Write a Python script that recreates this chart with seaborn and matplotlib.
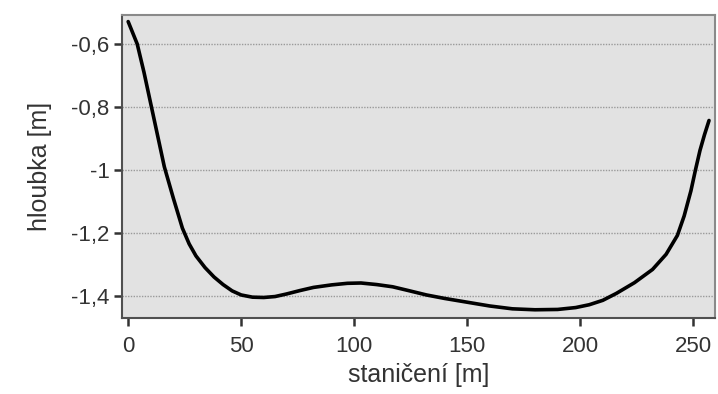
import matplotlib
matplotlib.use("Agg")
import matplotlib.pyplot as plt
import matplotlib.ticker as mticker
import pandas as pd
import seaborn as sns

# profile
staniceni = [0, 4, 7, 10, 13, 16, 20, 24, 27, 30, 34, 38, 42, 46, 50, 55,
             60, 65, 70, 76, 82, 90, 97, 103, 110, 117, 124, 132, 140, 150,
             160, 170, 180, 190, 198, 204, 210, 216, 224, 232, 238, 243,
             246, 249, 251, 253, 255, 257]
hloubka = [-0.529, -0.60, -0.69, -0.79, -0.89, -0.99, -1.09, -1.185,
           -1.235, -1.273, -1.31, -1.34, -1.364, -1.384, -1.397, -1.404,
           -1.405, -1.402, -1.394, -1.383, -1.373, -1.365, -1.36, -1.359,
           -1.364, -1.371, -1.383, -1.397, -1.408, -1.42, -1.432, -1.441,
           -1.444, -1.443, -1.437, -1.428, -1.414, -1.392, -1.358, -1.316,
           -1.268, -1.208, -1.146, -1.066, -1.0, -0.938, -0.888, -0.843]
yticks = [-0.6, -0.8, -1.0, -1.2, -1.4]
xticks = [0, 50, 100, 150, 200, 250]

df = pd.DataFrame({"x": staniceni, "y": hloubka})

sns.set_style("white")
plt.rcParams["font.family"] = ["Liberation Sans", "DejaVu Sans"]

fig = plt.figure(figsize=(7.18, 3.94), dpi=100)
ax = fig.add_axes([0.170, 0.193, 0.826, 0.769])
ax.set_facecolor("#e2e2e2")

sns.lineplot(data=df, x="x", y="y", ax=ax, color="black", linewidth=2.6)

ax.set_xlim(-2.7, 259.7)
ax.set_ylim(-1.47, -0.508)
ax.set_xticks(xticks)
ax.set_yticks(yticks)
ax.yaxis.set_major_formatter(mticker.FuncFormatter(
    lambda v, p: ("%g" % v).replace(".", ",")))
ax.grid(axis="y", linestyle=(0, (1, 1)), color="#9a9a9a", linewidth=1)
ax.grid(axis="x", visible=False)

for s in ax.spines.values():
    s.set_color("#8a8a8a")
    s.set_linewidth(1.5)
ax.spines["left"].set_color("#505050")
ax.spines["bottom"].set_color("#505050")

ax.tick_params(axis="both", direction="out", length=6, width=1.8,
               color="#333333", labelcolor="#333333", labelsize=16, pad=3)
ax.tick_params(axis="x", bottom=True, pad=7)
ax.tick_params(axis="y", left=True)

ax.set_xlabel("staničení [m]", fontsize=18, color="#333333", labelpad=4)
ax.set_ylabel("hloubka [m]", fontsize=18, color="#333333", labelpad=14)

fig.savefig("out.png", dpi=100)
